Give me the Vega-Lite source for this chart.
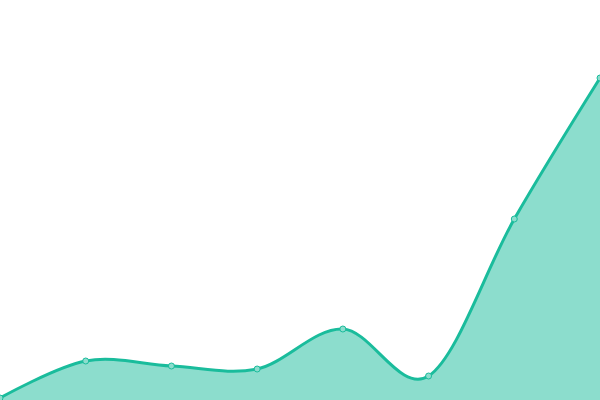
{
  "$schema": "https://vega.github.io/schema/vega-lite/v6.json",
  "width": 600,
  "height": 400,
  "autosize": {"type": "none"},
  "padding": 0,
  "background": "white",
  "config": {"view": {"stroke": null}},
  "data": {"values": [
    {"i": 0, "v": 2},
    {"i": 1, "v": 39},
    {"i": 2, "v": 34},
    {"i": 3, "v": 31},
    {"i": 4, "v": 71},
    {"i": 5, "v": 24},
    {"i": 6, "v": 181},
    {"i": 7, "v": 322}
  ]},
  "encoding": {
    "x": {"field": "i", "type": "quantitative", "scale": {"domain": [0, 7], "nice": false, "zero": false}, "axis": null},
    "y": {"field": "v", "type": "quantitative", "scale": {"domain": [0, 400], "nice": false}, "axis": null}
  },
  "layer": [
    {"mark": {"type": "area", "interpolate": "cardinal", "color": "#1abc9c", "opacity": 0.5}},
    {"mark": {"type": "line", "interpolate": "cardinal", "color": "#1abc9c", "strokeWidth": 3}},
    {"mark": {"type": "point", "shape": "circle", "filled": true, "size": 36, "fill": "#8cddcd", "stroke": "#1abc9c", "strokeWidth": 1, "opacity": 1}}
  ]
}
